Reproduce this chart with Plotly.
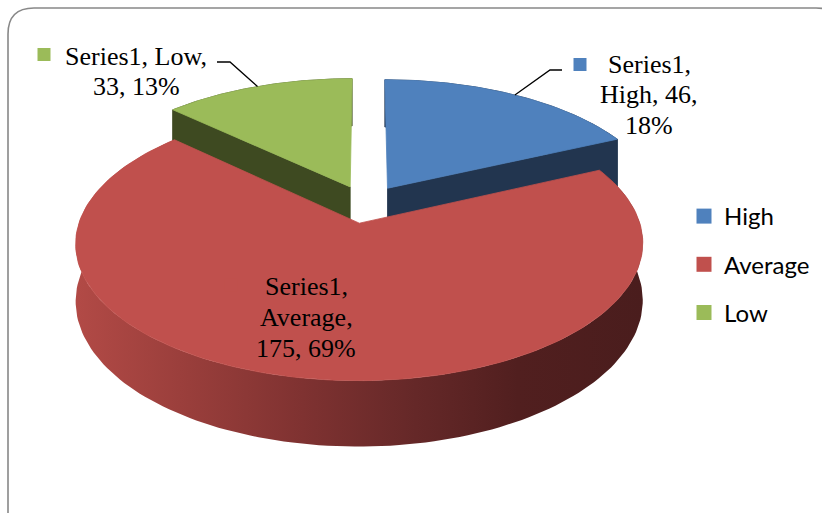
import numpy as np
import plotly.graph_objects as go

# ---- data -------------------------------------------------------------
series_name = "Series1"
categories = ["High", "Average", "Low"]
values = [46, 175, 33]

# ---- styling ----------------------------------------------------------
top_colors = ["#4F81BD", "#C0504D", "#9BBB59"]
side_colors = ["#22354F", "#7A2F2F", "#3E4A21"]
red_side_scale = [
    [0.0, "#B24A46"], [0.2, "#993E3B"], [0.4, "#7F3231"],
    [0.6, "#652828"], [0.78, "#511F1F"], [1.0, "#4A1D1D"],
]

W, H = 822, 513

# 3-D pie projection parameters (screen pixels)
CX, CY = 366.0, 204.0      # projected centre of the unexploded top face
RX, RY = 274.5, 128.5      # radii of the top face ellipse
PERSP = 0.145              # perspective strength (depth foreshortening)
DEPTH = 55.0               # thickness of the pie
EXPLODE = 0.148            # explosion distance, in radius units


def project(X, Z, level):
    """X: right, Z: away from viewer (radius units); level 0=top, 1=bottom."""
    X = np.asarray(X, dtype=float)
    Z = np.asarray(Z, dtype=float)
    p = 1.0 / (1.0 + PERSP * Z)
    return CX + RX * X * p, CY - RY * Z * p + DEPTH * level * p


total = float(sum(values))
fractions = [v / total for v in values]
bounds = np.concatenate([[0.0], np.cumsum(fractions)]) * 2 * np.pi

slices = []
for i, cat in enumerate(categories):
    a0, a1 = bounds[i], bounds[i + 1]
    mid = 0.5 * (a0 + a1)
    ox, oz = EXPLODE * np.sin(mid), EXPLODE * np.cos(mid)
    slices.append(dict(i=i, a0=a0, a1=a1, mid=mid, ox=ox, oz=oz))

fig = go.Figure()


def poly(xs, ys, color, gradient=None, lw=0.8):
    kw = dict(
        x=list(xs) + [xs[0]], y=list(ys) + [ys[0]],
        mode="lines", fill="toself", fillcolor=color,
        line=dict(width=lw, color=color),
        hoverinfo="skip", showlegend=False,
    )
    if gradient is not None:
        kw["fillgradient"] = dict(type="horizontal", colorscale=gradient)
        kw["line"] = dict(width=0)
    fig.add_trace(go.Scatter(**kw))


# paint back-to-front
for s in sorted(slices, key=lambda d: -d["oz"]):
    i = s["i"]
    th = np.linspace(s["a0"], s["a1"], 160)
    ax, az = s["ox"] + np.sin(th), s["oz"] + np.cos(th)

    # curved outer wall
    tx, ty = project(ax, az, 0)
    bx, by = project(ax, az, 1)
    poly(np.concatenate([tx, bx[::-1]]), np.concatenate([ty, by[::-1]]),
         side_colors[i], gradient=red_side_scale if i == 1 else None)

    # radial walls that face the viewer
    for ang, sign in ((s["a0"], -1), (s["a1"], 1)):
        normal = ang + sign * np.pi / 2
        if np.cos(normal) < -1e-6:
            rx_, rz_ = s["ox"] + np.sin(ang), s["oz"] + np.cos(ang)
            p1 = project(s["ox"], s["oz"], 0)
            p2 = project(rx_, rz_, 0)
            p3 = project(rx_, rz_, 1)
            p4 = project(s["ox"], s["oz"], 1)
            poly([p1[0], p2[0], p3[0], p4[0]], [p1[1], p2[1], p3[1], p4[1]],
                 side_colors[i])

    # top face
    cx_, cy_ = project(s["ox"], s["oz"], 0)
    poly(np.concatenate([[cx_], tx]), np.concatenate([[cy_], ty]), top_colors[i])

# ---- data labels --------------------------------------------------------
label_wrap = {"High": [1, 2, 1], "Average": [1, 1, 2], "Low": [2, 2]}
label_pos = {"High": (649, 73, 30.5), "Average": (306, 295, 31), "Low": (136, 65, 30)}
key_pos = {"High": (580, 64.5), "Average": (231, 285), "Low": (44, 54.5)}
leader_elbow = {"High": [(562, 70), (550, 70)], "Low": [(217, 62), (230, 62)]}

for s in slices:
    cat = categories[s["i"]]
    pct = round(100 * fractions[s["i"]])
    words = f"{series_name}, {cat}, {values[s['i']]}, {pct}%".split(" ")
    lines, k = [], 0
    for n in label_wrap[cat]:
        lines.append(" ".join(words[k:k + n]))
        k += n
    x0, base, step = label_pos[cat]
    for j, line in enumerate(lines):
        fig.add_annotation(
            x=x0, y=base + j * step - 8.8, text=line, showarrow=False,
            xanchor="center", yanchor="middle",
            font=dict(family="Liberation Serif, Times New Roman, serif",
                      size=26, color="black"),
        )
    kx, ky = key_pos[cat]
    fig.add_trace(go.Scatter(
        x=[kx], y=[ky], mode="markers",
        marker=dict(symbol="square", size=13, color=top_colors[s["i"]]),
        hoverinfo="skip", showlegend=False,
    ))
    if cat in leader_elbow:
        rim = project((1 + EXPLODE) * np.sin(s["mid"]),
                      (1 + EXPLODE) * np.cos(s["mid"]), 0)
        pts = leader_elbow[cat] + [(float(rim[0]), float(rim[1]))]
        fig.add_trace(go.Scatter(
            x=[p[0] for p in pts], y=[p[1] for p in pts], mode="lines",
            line=dict(color="black", width=1.3),
            hoverinfo="skip", showlegend=False,
        ))

# ---- legend entries -------------------------------------------------------
for i, cat in enumerate(categories):
    fig.add_trace(go.Scatter(
        x=[None], y=[None], mode="markers", name=cat, legendgroup=cat,
        marker=dict(symbol="square", size=15, color=top_colors[i]),
    ))

# ---- chart frame ------------------------------------------------------------
r = 26
x0b, y0b, x1b, y1b = 8, 8, 842, 540
frame = (f"M {x0b + r},{y0b} L {x1b - r},{y0b} Q {x1b},{y0b} {x1b},{y0b + r} "
         f"L {x1b},{y1b - r} Q {x1b},{y1b} {x1b - r},{y1b} "
         f"L {x0b + r},{y1b} Q {x0b},{y1b} {x0b},{y1b - r} "
         f"L {x0b},{y0b + r} Q {x0b},{y0b} {x0b + r},{y0b} Z")

fig.update_layout(
    width=W, height=H,
    margin=dict(l=0, r=0, t=0, b=0),
    paper_bgcolor="white", plot_bgcolor="white",
    xaxis=dict(range=[0, W], visible=False, fixedrange=True),
    yaxis=dict(range=[H, 0], visible=False, fixedrange=True),
    shapes=[dict(type="path", path=frame, xref="x", yref="y",
                 line=dict(color="#888888", width=1.6), layer="above")],
    legend=dict(
        x=684 / W, y=1 - 194 / H, xanchor="left", yanchor="top",
        font=dict(family="Lato, Carlito, Calibri, sans-serif", size=24, color="black"),
        tracegroupgap=14, bgcolor="rgba(0,0,0,0)", borderwidth=0,
    ),
    showlegend=True,
)

fig.write_html("out.html")
